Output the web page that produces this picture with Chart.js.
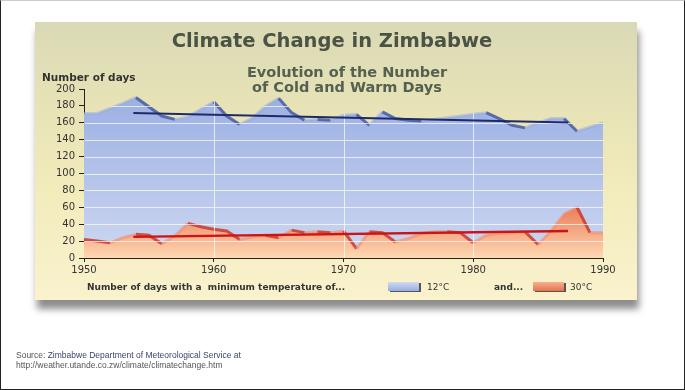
<!DOCTYPE html>
<html>
<head>
<meta charset="utf-8">
<script src="https://cdn.jsdelivr.net/npm/chart.js@4.4.0/dist/chart.umd.min.js"></script>
<style>
html, body { margin: 0; padding: 0; }
body { width: 685px; height: 390px; position: relative; overflow: hidden; background: #fff; font-family: "DejaVu Sans", sans-serif; }
#moldura { position: absolute; left: 0; top: 0; width: 685px; height: 390px; box-sizing: border-box; border: 1px solid #222; border-top-color: #ccc; }
#painel { position: absolute; left: 35px; top: 22px; width: 602px; height: 278px;
  background: linear-gradient(to bottom, #d9d9b6 0%, #e7e3b6 30%, #f2ebbb 60%, #faf2cd 100%);
  box-shadow: 2px 9px 7px rgba(0,0,0,0.45); }
#grafico { position: absolute; left: 0; top: 0; }
.txt { position: absolute; white-space: nowrap; line-height: 1; }
#titulo { left: 332px; top: 31px; font-size: 19.5px; font-weight: bold; color: #4b5444; transform: translateX(-50%); }
#subtitulo { left: 347px; top: 65px; font-size: 14.5px; line-height: 15px; font-weight: bold; color: #566050; text-align: center; transform: translateX(-50%); }
#eixoY { left: 42px; top: 72px; font-size: 10.5px; font-weight: bold; color: #333; }
.leg { top: 283px; font-size: 9px; color: #333; }
.b { font-weight: bold; }
.cx { position: absolute; top: 282px; width: 31px; height: 9px; box-shadow: 2px 1px 0 #555; }
#cxAzul { left: 388px; background: linear-gradient(to bottom, #d0daf3, #98acdf); }
#cxVerm { left: 533px; background: linear-gradient(to bottom, #f6b08e, #e8714f); }
.fonte { left: 16px; font-family: "Liberation Sans", Arial, sans-serif; font-size: 8.5px; color: #555; }
</style>
</head>
<body>
<div id="moldura"></div>
<div id="painel"></div>
<canvas id="grafico" width="685" height="390"></canvas>
<div class="txt" id="titulo">Climate Change in Zimbabwe</div>
<div class="txt" id="subtitulo">Evolution of the Number<br>of Cold and Warm Days</div>
<div class="txt" id="eixoY">Number of days</div>
<div class="txt leg b" style="left:87px">Number of days with a&nbsp; minimum temperature of...</div>
<div class="cx" id="cxAzul"></div>
<div class="txt leg" style="left:427px">12°C</div>
<div class="txt leg b" style="left:494px">and...</div>
<div class="cx" id="cxVerm"></div>
<div class="txt leg" style="left:570px">30°C</div>
<div class="txt fonte" style="top:351px">Source: <span style="color:#3b3f6e">Zimbabwe Department of Meteorological Service at</span></div>
<div class="txt fonte" style="top:361px">http://weather.utande.co.zw/climate/climatechange.htm</div>

<script>
var anos = [1950, 1951, 1952, 1953, 1954, 1955, 1956, 1957, 1958, 1959,
            1960, 1961, 1962, 1963, 1964, 1965, 1966, 1967, 1968, 1969,
            1970, 1971, 1972, 1973, 1974, 1975, 1976, 1977, 1978, 1979,
            1980, 1981, 1982, 1983, 1984, 1985, 1986, 1987, 1988, 1989, 1990];

// dias com minima abaixo de 12°C
var diasFrios = [171, 171, 177, 183, 190, 179, 168, 164, 167, 176,
                 185, 168, 158, 166, 180, 189, 172, 163, 164, 163,
                 169, 170, 157, 173, 165, 163, 162, 164, 166, 168,
                 170, 172, 165, 157, 154, 160, 165, 165, 150, 155, 160];

// dias com minima acima de 30°C
var diasQuentes = [22, 20, 18, 24, 28, 27, 17, 26, 41, 37,
                   34, 32, 22, 25, 27, 24, 33, 30, 31, 30,
                   32, 11, 31, 30, 19, 23, 29, 31, 31, 30,
                   18, 27, 29, 30, 31, 16, 32, 52, 60, 30, 30];

var tendFrioAnos = [1953.8, 1987.3];
var tendFrioValor = [171.6, 160.5];
var tendQuenteAnos = [1953.8, 1987.3];
var tendQuenteValor = [25, 32];

var ticksX = [1950, 1960, 1970, 1980, 1990];

function montaPontos(xs, ys) {
    var pts = [];
    for (let i = 0; i < xs.length; i++) {
        pts.push({ x: xs[i], y: ys[i] });
    }
    return pts;
}

function gradiente(context, topo, cor1, cor2) {
    var chart = context.chart;
    if (!chart.chartArea) return cor1;
    var y = chart.scales.y;
    var g = chart.ctx.createLinearGradient(0, y.getPixelForValue(topo), 0, y.getPixelForValue(0));
    g.addColorStop(0, cor1);
    g.addColorStop(1, cor2);
    return g;
}

// descidas com sombra escura, subidas quase invisiveis
function corBorda(escura, clara) {
    return function (s) { return s.p1.parsed.y < s.p0.parsed.y ? escura : clara; };
}

// linhas brancas da grade, so por cima das areas preenchidas
var gradeBranca = {
    id: "gradeBranca",
    afterDatasetDraw(chart, args) {
        if (args.index !== 3) return;
        var ctx = chart.ctx, a = chart.chartArea;
        var sx = chart.scales.x, sy = chart.scales.y;
        ctx.save();
        ctx.globalCompositeOperation = "source-atop";
        ctx.strokeStyle = "rgba(255,255,255,0.7)";
        ctx.lineWidth = 1;
        ctx.beginPath();
        sy.ticks.forEach(function (t) {
            if (t.value > sy.min && t.value < sy.max) {
                var py = Math.round(sy.getPixelForValue(t.value)) + 0.5;
                ctx.moveTo(a.left + 1, py);
                ctx.lineTo(a.right, py);
            }
        });
        sx.ticks.forEach(function (t) {
            if (t.value > sx.min && t.value < sx.max) {
                var px = Math.round(sx.getPixelForValue(t.value)) + 0.5;
                ctx.moveTo(px, a.top);
                ctx.lineTo(px, a.bottom);
            }
        });
        ctx.stroke();
        ctx.restore();
    }
};

var ctx = document.getElementById("grafico");

new Chart(ctx, {
    type: "line",
    data: {
        datasets: [
            {
                label: "12°C",
                data: montaPontos(anos, diasFrios),
                order: 4,
                fill: "origin",
                tension: 0,
                pointRadius: 0,
                borderWidth: 0,
                borderColor: "transparent",
                backgroundColor: function (c) { return gradiente(c, 190, "#9cb0e3", "#cdd7f1"); }
            },
            {
                label: "30°C",
                data: montaPontos(anos, diasQuentes),
                order: 2,
                fill: "origin",
                tension: 0,
                pointRadius: 0,
                borderWidth: 0,
                borderColor: "transparent",
                backgroundColor: function (c) { return gradiente(c, 60, "#ec7c5a", "#fdd9b2"); }
            },
            {
                label: "borda 12°C",
                data: montaPontos(anos, diasFrios),
                order: 3,
                fill: false,
                tension: 0,
                pointRadius: 0,
                borderWidth: 3,
                segment: { borderColor: corBorda("rgba(72,90,160,0.85)", "rgba(150,170,225,0.5)") }
            },
            {
                label: "borda 30°C",
                data: montaPontos(anos, diasQuentes),
                order: 1,
                fill: false,
                tension: 0,
                pointRadius: 0,
                borderWidth: 3,
                segment: { borderColor: corBorda("rgba(205,55,40,0.85)", "rgba(240,140,110,0.6)") }
            },
            {
                label: "tendencia frio",
                data: montaPontos(tendFrioAnos, tendFrioValor),
                order: 0,
                fill: false,
                pointRadius: 0,
                borderWidth: 2,
                borderColor: "#1e2a6a"
            },
            {
                label: "tendencia quente",
                data: montaPontos(tendQuenteAnos, tendQuenteValor),
                order: 0,
                fill: false,
                pointRadius: 0,
                borderWidth: 2.5,
                borderColor: "#cc1414"
            }
        ]
    },
    options: {
        responsive: false,
        animation: false,
        layout: { padding: { left: 0, right: 82, top: 89, bottom: 0 } },
        plugins: {
            legend: { display: false },
            tooltip: { enabled: false },
            title: { display: false }
        },
        scales: {
            x: {
                type: "linear",
                min: 1950,
                max: 1990,
                afterBuildTicks: function (s) { s.ticks = ticksX.map(function (v) { return { value: v }; }); },
                afterFit: function (s) { s.height = 132; },
                ticks: {
                    padding: 2,
                    color: "#333",
                    font: { family: "DejaVu Sans", size: 10 },
                    callback: function (v) { return String(v); }
                },
                grid: { drawOnChartArea: false, tickLength: 4, tickColor: "#222" },
                border: { color: "#222", width: 1 }
            },
            y: {
                min: 0,
                max: 200,
                afterFit: function (s) { s.width = 84; },
                ticks: {
                    stepSize: 20,
                    padding: 4,
                    color: "#333",
                    font: { family: "DejaVu Sans", size: 10 }
                },
                grid: { drawOnChartArea: false, tickLength: 5, tickColor: "#222" },
                border: { color: "#222", width: 1 }
            }
        }
    },
    plugins: [gradeBranca]
});
</script>
</body>
</html>
